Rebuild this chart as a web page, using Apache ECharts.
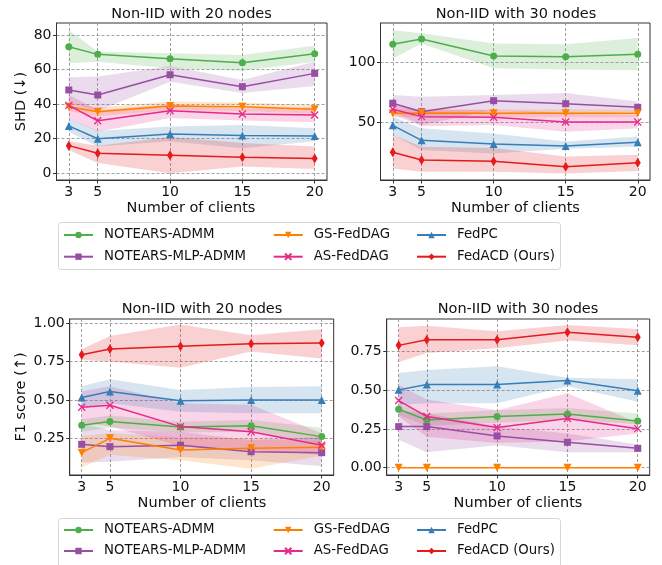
<!DOCTYPE html>
<html>
<head>
<meta charset="utf-8">
<script src="https://cdn.jsdelivr.net/npm/echarts@6/dist/echarts.min.js"></script>
<style>
  html, body { margin: 0; padding: 0; background: #fff; }
  #chart { width: 662px; height: 565px; }
</style>
</head>
<body>
<div id="chart"></div>
<script>
// Number of federated clients on the x axis
const clients = [3, 5, 10, 15, 20];
const methods = ['NOTEARS-ADMM', 'NOTEARS-MLP-ADMM', 'GS-FedDAG', 'AS-FedDAG', 'FedPC', 'FedACD (Ours)'];
const colors = ['#4daf4a', '#984ea3', '#ff7f00', '#e7298a', '#377eb8', '#e41a1c'];

// SHD, 20 nodes (rows follow `methods`)
const shd20Mean = [
  [73.2, 68.8, 66.3, 64.0, 69.2],
  [48.2, 45.3, 57.0, 50.1, 57.8],
  [38.5, 35.6, 38.9, 38.5, 37.0],
  [39.3, 30.4, 36.2, 34.3, 33.7],
  [27.4, 20.0, 22.7, 21.8, 21.6],
  [16.0, 11.6, 10.4, 9.3, 8.5]
];
const shd20Low = [
  [63.6, 64.5, 60.7, 59.3, 64.5],
  [41.0, 36.0, 53.0, 46.5, 50.5],
  [36.0, 33.0, 36.5, 36.0, 34.5],
  [32.0, 24.0, 32.0, 30.5, 29.5],
  [24.0, 15.5, 18.5, 14.5, 18.5],
  [13.5, 6.0, 0.0, 4.0, 2.5]
];
const shd20High = [
  [82.9, 70.3, 69.4, 68.4, 73.8],
  [55.5, 56.0, 62.0, 54.0, 64.5],
  [41.0, 38.0, 41.5, 41.0, 39.5],
  [45.5, 36.5, 40.0, 37.5, 38.0],
  [32.0, 24.5, 27.0, 28.0, 26.0],
  [18.5, 16.0, 21.0, 17.5, 15.5]
];

// SHD, 30 nodes
const shd30Mean = [
  [114.9, 119.3, 105.2, 104.6, 106.6],
  [66.1, 59.1, 68.2, 65.7, 62.7],
  [57.8, 58.1, 57.8, 57.8, 57.8],
  [61.1, 55.0, 54.5, 50.6, 50.6],
  [47.8, 35.4, 32.4, 30.7, 33.8],
  [25.5, 19.1, 18.0, 13.6, 16.9]
];
const shd30Low = [
  [103.0, 115.5, 95.0, 94.0, 93.5],
  [59.0, 48.0, 60.5, 56.5, 59.0],
  [54.5, 55.0, 54.5, 54.5, 54.5],
  [56.5, 47.0, 48.0, 42.5, 45.5],
  [40.0, 27.5, 24.5, 28.5, 30.0],
  [12.0, 9.5, 9.5, 8.0, 10.0]
];
const shd30High = [
  [126.5, 124.0, 115.5, 115.0, 120.0],
  [73.0, 71.5, 73.0, 74.5, 67.5],
  [61.0, 61.5, 61.0, 61.0, 61.0],
  [64.5, 60.5, 60.5, 58.0, 56.5],
  [55.0, 45.5, 41.0, 34.5, 38.5],
  [40.0, 30.0, 29.0, 22.0, 23.5]
];

// F1 score, 20 nodes
const f120Mean = [
  [0.337, 0.361, 0.326, 0.334, 0.263],
  [0.213, 0.198, 0.207, 0.165, 0.159],
  [0.159, 0.252, 0.176, 0.187, 0.194],
  [0.454, 0.467, 0.328, 0.295, 0.207],
  [0.517, 0.556, 0.495, 0.501, 0.501],
  [0.794, 0.831, 0.850, 0.866, 0.870]
];
const f120Low = [
  [0.295, 0.320, 0.290, 0.295, 0.215],
  [0.095, 0.100, 0.130, 0.110, 0.070],
  [0.065, 0.145, 0.110, 0.055, 0.140],
  [0.350, 0.330, 0.200, 0.175, 0.145],
  [0.445, 0.480, 0.425, 0.415, 0.415],
  [0.760, 0.750, 0.710, 0.815, 0.770]
];
const f120High = [
  [0.375, 0.400, 0.360, 0.370, 0.320],
  [0.350, 0.305, 0.295, 0.240, 0.260],
  [0.265, 0.285, 0.260, 0.250, 0.230],
  [0.555, 0.590, 0.480, 0.470, 0.285],
  [0.590, 0.635, 0.565, 0.585, 0.590],
  [0.830, 0.915, 0.990, 0.920, 0.960]
];

// F1 score, 30 nodes
const f130Mean = [
  [0.377, 0.308, 0.330, 0.347, 0.302],
  [0.265, 0.265, 0.205, 0.164, 0.125],
  [0.0, 0.0, 0.0, 0.0, 0.0],
  [0.433, 0.330, 0.259, 0.317, 0.252],
  [0.502, 0.537, 0.537, 0.563, 0.496],
  [0.789, 0.825, 0.825, 0.873, 0.841]
];
const f130Low = [
  [0.340, 0.270, 0.290, 0.310, 0.280],
  [0.180, 0.100, 0.145, 0.100, 0.100],
  [0.0, 0.0, 0.0, 0.0, 0.0],
  [0.330, 0.200, 0.160, 0.170, 0.220],
  [0.405, 0.415, 0.415, 0.525, 0.425],
  [0.680, 0.740, 0.770, 0.820, 0.790]
];
const f130High = [
  [0.410, 0.350, 0.370, 0.385, 0.350],
  [0.370, 0.350, 0.265, 0.220, 0.150],
  [0.0, 0.0, 0.0, 0.0, 0.0],
  [0.535, 0.440, 0.370, 0.480, 0.290],
  [0.610, 0.630, 0.655, 0.580, 0.570],
  [0.905, 0.915, 0.880, 0.920, 0.895]
];

// Tick values
const xTicks = [3, 5, 10, 15, 20];
const shd20Ticks = [0, 20, 40, 60, 80];
const shd30Ticks = [50, 100];
const f120Ticks = [0.25, 0.5, 0.75, 1.0];
const f130Ticks = [0.0, 0.25, 0.5, 0.75];

const FONT = 'DejaVu Sans';

// Panel layout
const panels = [
  { grid: { left: 56.5, top: 23, width: 270.5, height: 157 }, y: [-3.88, 86.94], ticks: shd20Ticks, dec: 0,
    mean: shd20Mean, lo: shd20Low, hi: shd20High },
  { grid: { left: 380.5, top: 23, width: 269.5, height: 157 }, y: [2.57, 132.5], ticks: shd30Ticks, dec: 0,
    mean: shd30Mean, lo: shd30Low, hi: shd30High },
  { grid: { left: 69.7, top: 319, width: 264, height: 156 }, y: [0.014, 1.026], ticks: f120Ticks, dec: 2,
    mean: f120Mean, lo: f120Low, hi: f120High },
  { grid: { left: 386.7, top: 319, width: 263, height: 156 }, y: [-0.047, 0.959], ticks: f130Ticks, dec: 2,
    mean: f130Mean, lo: f130Low, hi: f130High }
];

const markers = [
  { symbol: 'circle', size: 7, rotate: 0 },
  { symbol: 'rect', size: 7, rotate: 0 },
  { symbol: 'triangle', size: 8, rotate: 180 },
  { symbol: 'path://M0,0L10,10M0,10L10,0', size: 7, rotate: 0 },
  { symbol: 'triangle', size: 8, rotate: 0 },
  { symbol: 'diamond', size: [6, 10], rotate: 0 }
];

function rgba(hex, a) {
  const n = parseInt(hex.slice(1), 16);
  return `rgba(${(n >> 16) & 255},${(n >> 8) & 255},${n & 255},${a})`;
}

const grids = [], xAxes = [], yAxes = [], series = [];
const gridLine = { show: true, lineStyle: { type: [3, 2], color: '#8a8a8a', width: 0.8 } };

panels.forEach((p, gi) => {
  grids.push(Object.assign({ show: true, borderColor: '#333', borderWidth: 1,
    backgroundColor: 'transparent', containLabel: false, outerBoundsMode: 'none' }, p.grid));
  xAxes.push({
    type: 'value', gridIndex: gi, min: 2.15, max: 20.85,
    axisLine: { show: true, onZero: false, lineStyle: { color: '#333', width: 1 } },
    axisTick: { show: true, length: 3.5, customValues: xTicks, lineStyle: { color: '#333' } },
    axisLabel: { customValues: xTicks, fontSize: 14, color: '#111', margin: 5, fontFamily: FONT },
    splitLine: gridLine
  });
  yAxes.push({
    type: 'value', gridIndex: gi, min: p.y[0], max: p.y[1],
    axisLine: { show: true, onZero: false, lineStyle: { color: '#333', width: 1 } },
    axisTick: { show: true, length: 3.5, customValues: p.ticks, lineStyle: { color: '#333' } },
    axisLabel: { customValues: p.ticks, fontSize: 14, color: '#111', margin: 5, fontFamily: FONT,
      formatter: v => Number(v).toFixed(p.dec) },
    splitLine: gridLine
  });

  methods.forEach((name, mi) => {
    const band = clients.map((c, k) => [c, p.lo[mi][k], p.hi[mi][k]]);
    series.push({
      type: 'custom', xAxisIndex: gi, yAxisIndex: gi, silent: true, z: 1,
      data: band, encode: { x: 0, y: [1, 2] },
      renderItem(params, api) {
        if (params.dataIndex !== 0) return null;
        const upper = band.map(d => api.coord([d[0], d[2]]));
        const lower = band.map(d => api.coord([d[0], d[1]])).reverse();
        return { type: 'polygon', shape: { points: upper.concat(lower) },
          style: { fill: rgba(colors[mi], 0.2), stroke: null } };
      }
    });
  });

  methods.forEach((name, mi) => {
    const m = markers[mi];
    series.push({
      type: 'line', name, xAxisIndex: gi, yAxisIndex: gi, z: 3 + mi,
      data: clients.map((c, k) => [c, p.mean[mi][k]]),
      symbol: m.symbol, symbolSize: m.size, symbolRotate: m.rotate, showAllSymbol: true,
      color: colors[mi],
      lineStyle: { color: colors[mi], width: 1.5 },
      itemStyle: mi === 3
        ? { color: colors[mi], borderColor: colors[mi], borderWidth: 1.3 }
        : { color: colors[mi], borderWidth: 0 },
      emphasis: { disabled: true }
    });
  });
});

// Legends: two boxes, three columns of two entries each
const legendCols = [63, 272.7, 416];
const legends = [];
[227, 522].forEach(top => {
  legendCols.forEach((left, ci) => {
    legends.push({
      orient: 'vertical', left, top, padding: 0,
      itemWidth: 29, itemHeight: 8, itemGap: top === 227 ? 5.7 : 5,
      data: [methods[ci * 2], methods[ci * 2 + 1]],
      selectedMode: false,
      textStyle: { fontSize: 13.3, fontFamily: FONT, color: '#111', lineHeight: 16, padding: [0, 0, 0, 6] }
    });
  });
});

function label(text, x, y, rot) {
  return { type: 'text', x, y, rotation: rot || 0, z: 10,
    style: { text, fill: '#111', font: `14.5px "${FONT}"`, textAlign: 'center', textVerticalAlign: 'middle' } };
}

const graphic = [
  { type: 'rect', z: -1, shape: { x: 58.5, y: 222.5, width: 502, height: 47, r: 3 },
    style: { fill: '#fff', stroke: '#d6d6d6', lineWidth: 1 } },
  { type: 'rect', z: -1, shape: { x: 58.5, y: 518.5, width: 502, height: 60, r: 3 },
    style: { fill: '#fff', stroke: '#d6d6d6', lineWidth: 1 } },
  label('Non-IID with 20 nodes', 191.5, 14.5),
  label('Non-IID with 30 nodes', 516, 14.5),
  label('Non-IID with 20 nodes', 202, 309.5),
  label('Non-IID with 30 nodes', 518, 309.5),
  label('Number of clients', 191, 208),
  label('Number of clients', 515.5, 208),
  label('Number of clients', 202, 503),
  label('Number of clients', 518, 503),
  label('SHD (↓)', 21.5, 101.5, Math.PI / 2),
  label('F1 score (↑)', 21.5, 397, Math.PI / 2)
];

const chart = echarts.init(document.getElementById('chart'), null, { renderer: 'canvas' });
chart.setOption({
  animation: false,
  backgroundColor: '#fff',
  grid: grids,
  xAxis: xAxes,
  yAxis: yAxes,
  legend: legends,
  graphic,
  series
});
</script>
</body>
</html>
